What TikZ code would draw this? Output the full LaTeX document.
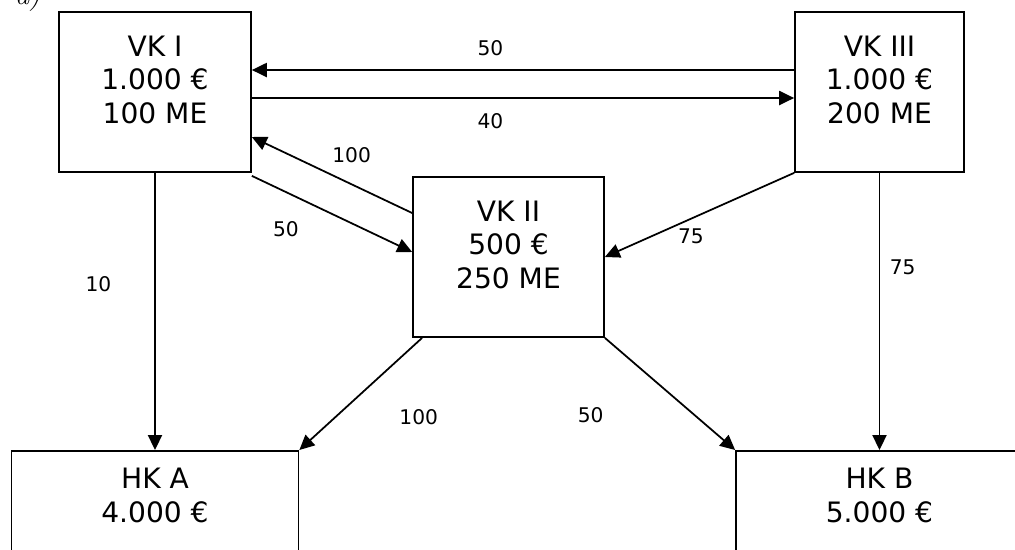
\documentclass[tikz,border=0pt]{standalone}
\usepackage{fontspec}
\setsansfont{DejaVu Sans}
\usetikzlibrary{positioning,arrows.meta,calc}

\begin{document}
\begin{tikzpicture}[
    x=0.02cm,
    y=-0.02cm,
    font=\sffamily\fontsize{16}{19}\selectfont,
    box/.style={
        draw,
        line width=1pt,
        minimum height=3.2cm,
        align=center,
        inner sep=0pt
    },
    kst/.style={
        draw,
        line width=1pt,
        minimum width=5.74cm,
        anchor=north,
        align=center,
        inner xsep=0pt,
        inner ysep=10pt
    },
    arrow/.style={-{Triangle[length=8.5pt,width=8pt]}, line width=1pt},
    lbl/.style={font=\sffamily\fontsize{11.5}{13}\selectfont}
]
\useasboundingbox (0,0) rectangle (1015,549);

\node[anchor=base west, font=\rmfamily\itshape\fontsize{16}{18}\selectfont] (teil) at (9,4) {a)};

% ============================================================
% VORKOSTENSTELLEN
% ============================================================
\node[box, minimum width=3.84cm] (vk1) at (155,92)
    {VK I\\1.000 €\\100 ME\\[-5pt]\mbox{}};
\node[box, minimum width=3.82cm] (vk2) at (508.5,257)
    {VK II\\500 €\\250 ME\\[-5pt]\mbox{}};
\node[box, minimum width=3.38cm] (vk3) at (879.5,92)
    {VK III\\1.000 €\\200 ME\\[-5pt]\mbox{}};

% ============================================================
% HAUPTKOSTENSTELLEN
% ============================================================
\node[kst] (hka) at (155,450) {HK A\\4.000 €\\\mbox{}\\\mbox{}};
\node[kst] (hkb) at (879.5,450) {HK B\\5.000 €\\\mbox{}\\\mbox{}};

% ============================================================
% LEISTUNGSBEZIEHUNGEN
% ============================================================
\draw[arrow] ([yshift=0.44cm]vk3.west) --
    node[lbl, pos=0.56, above=4pt] {50} ([yshift=0.44cm]vk1.east);
\draw[arrow] ([yshift=-0.12cm]vk1.east) --
    node[lbl, pos=0.44, below=5pt] {40} ([yshift=-0.12cm]vk3.west);

\draw[arrow] ([yshift=0.88cm]vk2.west) --
    node[lbl, pos=0.44, above=6pt, xshift=0.2cm] {100} ([yshift=-0.9cm]vk1.east);
\draw[arrow] ([yshift=-0.06cm]vk1.south east) --
    node[lbl, pos=0.3, below=9pt, xshift=-0.28cm] {50} ([yshift=0.1cm]vk2.west);

\draw[arrow] (vk1.south) --
    node[lbl, pos=0.4, left=0.74cm] {10} (hka.north);
\draw[arrow] (vk3.south west) --
    node[lbl, pos=0.545, below=2pt] {75} (vk2.east);
\draw[arrow] (vk3.south) --
    node[lbl, pos=0.34, right=2pt] {75} (hkb.north);

\draw[arrow] ([xshift=0.2cm]vk2.south west) --
    node[lbl, pos=0.34, below right=15pt and 7pt] {100} (hka.north east);
\draw[arrow] (vk2.south east) --
    node[lbl, pos=0.23, below left=21pt and 14pt] {50} (hkb.north west);

\end{tikzpicture}
\end{document}
